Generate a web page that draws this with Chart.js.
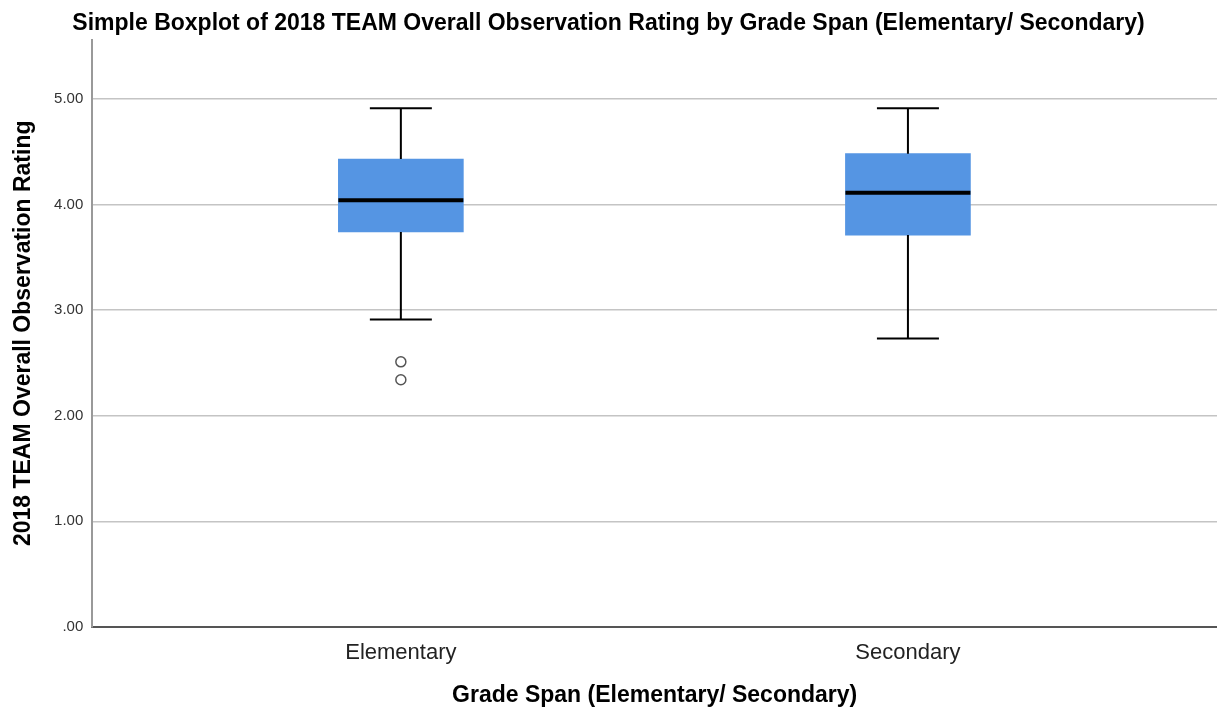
<!DOCTYPE html>
<html>
<head>
<meta charset="utf-8">
<script src="https://cdn.jsdelivr.net/npm/chart.js@4/dist/chart.umd.min.js"></script>
<style>
  html, body { margin: 0; padding: 0; background: #fff; }
  #wrap { width: 1217px; height: 712px; position: relative; }
</style>
</head>
<body>
<div id="wrap"><canvas id="myChart"></canvas></div>
<script>
// values
const categories = ['Elementary', 'Secondary'];
const whiskerLow = [2.91, 2.73];
const q1 = [3.74, 3.71];
const median = [4.04, 4.11];
const q3 = [4.43, 4.48];
const whiskerHigh = [4.91, 4.91];
const outlierCat = [1, 1];
const outlierVal = [2.51, 2.34];
const yTicks = [0, 1, 2, 3, 4, 5];

const FONT = "'Liberation Sans', Arial, sans-serif";
const capHalf = 31;

const boxData = categories.map((c, i) => ({ x: i + 1, y: [q1[i], q3[i]] }));
const outlierData = outlierVal.map((v, i) => ({ x: outlierCat[i], y: v }));

// whiskers, caps and medians, placed through the chart scales
const boxLines = {
  id: 'boxLines',
  afterDatasetsDraw(chart) {
    const { ctx, scales: { x, y } } = chart;
    const half = chart.data.datasets[0].barThickness / 2;
    ctx.save();
    ctx.strokeStyle = '#000';
    categories.forEach((c, i) => {
      const px = x.getPixelForValue(i + 1);
      ctx.lineWidth = 2;
      ctx.beginPath();
      ctx.moveTo(px, y.getPixelForValue(q3[i]));
      ctx.lineTo(px, y.getPixelForValue(whiskerHigh[i]));
      ctx.moveTo(px, y.getPixelForValue(q1[i]));
      ctx.lineTo(px, y.getPixelForValue(whiskerLow[i]));
      ctx.moveTo(px - capHalf, y.getPixelForValue(whiskerHigh[i]));
      ctx.lineTo(px + capHalf, y.getPixelForValue(whiskerHigh[i]));
      ctx.moveTo(px - capHalf, y.getPixelForValue(whiskerLow[i]));
      ctx.lineTo(px + capHalf, y.getPixelForValue(whiskerLow[i]));
      ctx.stroke();
      ctx.lineWidth = 4;
      ctx.beginPath();
      ctx.moveTo(px - half, y.getPixelForValue(median[i]));
      ctx.lineTo(px + half, y.getPixelForValue(median[i]));
      ctx.stroke();
    });
    ctx.restore();
  }
};

new Chart(document.getElementById('myChart'), {
  type: 'bar',
  data: {
    datasets: [{
      label: 'box',
      data: boxData,
      backgroundColor: '#5595e3',
      borderWidth: 0,
      barThickness: 125,
      order: 2
    }, {
      type: 'scatter',
      label: 'outliers',
      data: outlierData,
      pointStyle: 'circle',
      pointRadius: 5,
      borderColor: '#555',
      backgroundColor: '#fff',
      borderWidth: 1.5,
      order: 1
    }]
  },
  options: {
    responsive: true,
    maintainAspectRatio: false,
    animation: false,
    layout: { autoPadding: false, padding: { left: 0, right: 0, top: 0, bottom: 0 } },
    plugins: {
      legend: { display: false },
      tooltip: { enabled: false },
      title: {
        display: true,
        text: 'Simple Boxplot of 2018 TEAM Overall Observation Rating by Grade Span (Elementary/ Secondary)',
        color: '#000',
        font: { family: FONT, size: 23, weight: 'bold' },
        padding: { top: 10, bottom: 2 }
      }
    },
    scales: {
      x: {
        type: 'linear',
        offset: false,
        min: 0.3915,
        max: 2.6095,
        afterBuildTicks: axis => { axis.ticks = categories.map((c, i) => ({ value: i + 1 })); },
        afterFit: axis => { axis.paddingLeft = 0; axis.paddingRight = 0; },
        ticks: {
          callback: v => categories[v - 1],
          color: '#222',
          font: { family: FONT, size: 22 },
          padding: 13,
          maxRotation: 0
        },
        grid: { display: false, drawTicks: false, offset: false },
        border: { display: true, color: '#555', width: 2 },
        title: {
          display: true,
          text: 'Grade Span (Elementary/ Secondary)',
          color: '#000',
          font: { family: FONT, size: 23, weight: 'bold' },
          padding: { top: 2, bottom: 3 }
        }
      },
      y: {
        min: 0,
        max: 5.56,
        afterBuildTicks: axis => { axis.ticks = yTicks.map(v => ({ value: v })); },
        ticks: {
          callback: v => v === 0 ? '.00' : v.toFixed(2),
          color: '#333',
          font: { family: FONT, size: 15 },
          padding: 9
        },
        grid: { color: '#c4c4c4', lineWidth: 1.5, drawTicks: false },
        border: { display: true, color: '#999', width: 2 },
        title: {
          display: true,
          text: '2018 TEAM Overall Observation Rating',
          color: '#000',
          font: { family: FONT, size: 23, weight: 'bold' },
          padding: { top: 10, bottom: 7.5 }
        }
      }
    }
  },
  plugins: [boxLines]
});
</script>
</body>
</html>
